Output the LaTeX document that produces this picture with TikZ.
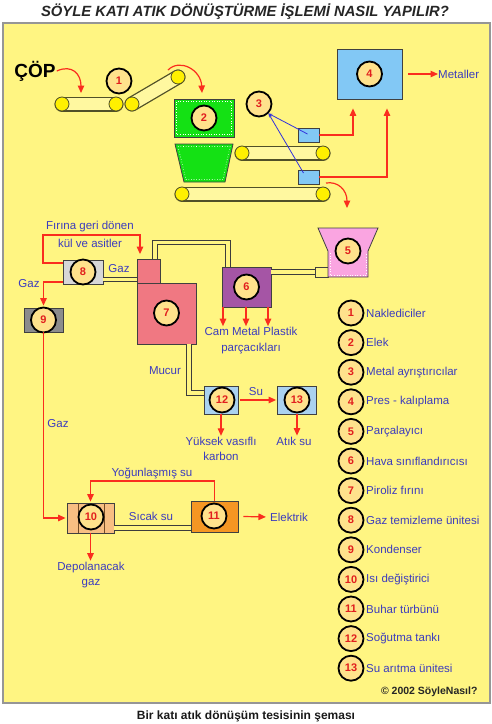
\documentclass[tikz,border=0pt]{standalone}
\usepackage{fontspec}
\setmainfont{Liberation Sans}
\usetikzlibrary{arrows.meta,calc}
\definecolor{bgyellow}{RGB}{255,245,130}
\definecolor{panelgray}{RGB}{150,150,150}
\definecolor{lblue}{RGB}{60,60,190}
\definecolor{numred}{RGB}{225,30,30}
\definecolor{arrred}{RGB}{250,45,30}
\definecolor{circfill}{RGB}{255,226,140}
\definecolor{green2}{RGB}{20,225,20}
\definecolor{lightblue}{RGB}{130,200,245}
\definecolor{pink5}{RGB}{250,165,225}
\definecolor{purple6}{RGB}{165,85,165}
\definecolor{salmon7}{RGB}{240,120,130}
\definecolor{gray8}{RGB}{215,215,215}
\definecolor{gray9}{RGB}{140,140,140}
\definecolor{orange10}{RGB}{248,190,130}
\definecolor{orange11}{RGB}{245,150,35}
\definecolor{blue12}{RGB}{170,210,240}
\definecolor{beltdark}{RGB}{80,80,40}
\definecolor{beltfill}{RGB}{255,248,160}
\definecolor{rollery}{RGB}{255,240,0}
\definecolor{pipegray}{RGB}{60,60,60}
\definecolor{bluel}{RGB}{50,50,220}
\newcommand\mybelt[2]{%
  \draw[beltout] (#1) -- (#2);
  \draw[beltin] (#1) -- (#2);}
\begin{document}
\begin{tikzpicture}[x=1pt,y=-1pt,
  numc/.style={circle, draw=black, line width=1.8pt, fill=circfill, minimum size=25pt,
    inner sep=0pt, font=\fontsize{11}{11}\selectfont\bfseries, text=numred},
  lbl/.style={text=lblue, font=\fontsize{11.5}{15.5}\selectfont, inner sep=0pt, align=center},
  rarr/.style={draw=arrred, line width=1.2pt, -{Triangle[length=7.5pt,width=6.5pt]}},
  pipe/.style={draw=pipegray, line width=1pt, double=bgyellow, double distance=3.5pt},
  box/.style={draw=black!75, line width=0.8pt, inner sep=0pt},
  beltout/.style={draw=beltdark, line width=15pt, line cap=round},
  beltin/.style={draw=beltfill, line width=12.4pt, line cap=round},
  roller/.style={circle, draw=beltdark, fill=rollery, line width=0.8pt, minimum size=14pt, inner sep=0pt},
  bline/.style={draw=bluel, line width=0.8pt, -{Stealth[length=4pt,width=3pt]}}
]
\useasboundingbox (0,0) rectangle (492,724);
\fill[white] (0,0) rectangle (492,724);
% panel
\draw[draw=panelgray, line width=1.5pt, fill=bgyellow] (3,23) rectangle (490,703);

% title and caption
\node[font=\fontsize{14.8}{14.8}\selectfont\bfseries\itshape, text=black!85] (title) at (245,12)
  {SÖYLE KATI ATIK DÖNÜŞTÜRME İŞLEMİ NASIL YAPILIR?};
\node[font=\fontsize{12}{12}\selectfont\bfseries, text=black!90] (cap) at (246,716)
  {Bir katı atık dönüşüm tesisinin şeması};
\node[font=\fontsize{10.5}{10.5}\selectfont\bfseries, text=black!85, anchor=east] (copy) at (481,692)
  {© 2002 SöyleNasıl?};

% ÇÖP
\node[font=\fontsize{19}{19}\selectfont\bfseries, inner sep=1pt] (cop) at (35,71) {ÇÖP};

% conveyors
\coordinate (ra1) at (62,104);  \coordinate (ra2) at (116,104);
\coordinate (rb1) at (132,104); \coordinate (rb2) at (178,77);
\coordinate (rc1) at (242,153); \coordinate (rc2) at (323,153);
\coordinate (rd1) at (182,194); \coordinate (rd2) at (323,194);
\mybelt{ra1}{ra2}
\mybelt{rb1}{rb2}
\mybelt{rc1}{rc2}
\mybelt{rd1}{rd2}
\foreach \r in {ra1,ra2,rb1,rb2,rc1,rc2,rd1,rd2}
  \node[roller] (n\r) at (\r) {};

\node[numc] (c1) at (119,81) {1};

% curved arrows
\coordinate (cin) at (81,93);
\draw[rarr] (cop.east) .. controls (72,64) and (81,74) .. (cin);
\coordinate (t1s) at (168,70);
\coordinate (t1e) at (202,93);
\draw[rarr] (t1s) .. controls (180,58) and (201,70) .. (t1e);

% screen 2
\node[box, fill=green2, minimum width=60pt, minimum height=38pt] (b2) at (204,118) {};
\draw[white, dotted, line width=0.6pt] (176.5,101.5) rectangle (231.5,134.5);
\draw[box, fill=green2] (175,144) -- (233,144) -- (225,182) -- (184,182) -- cycle;
\draw[white, dotted, line width=0.6pt] (178,146.5) -- (230,146.5) -- (223,179.5) -- (186,179.5) -- cycle;
\node[numc] (c2) at (b2) {2};

% metal separators 3
\node[numc] (c3) at (259,104) {3};
\node[box, fill=lightblue, minimum width=21pt, minimum height=14pt] (sbA) at (308.5,135) {};
\node[box, fill=lightblue, minimum width=21pt, minimum height=14pt] (sbB) at (308.5,177) {};
\draw[bline] ($(sbA.center)+(-1,-1)$) -- (c3.south east);
\draw[bline] ($(sbB.center)+(-5,-4)$) -- (c3.south east);

% press 4
\node[box, fill=lightblue, minimum width=65pt, minimum height=50pt] (b4) at (369.5,74) {};
\node[numc] (c4) at (b4) {4};
\node[lbl, anchor=west] (met) at (438,74) {Metaller};
\draw[rarr] ([xshift=6pt]b4.east) -- (met.west);
\draw[rarr, shorten >=9pt] (sbA.east) -| (353,0 |- b4.south);
\draw[rarr, shorten >=9pt] (sbB.east) -| (387,0 |- b4.south);

% to shredder
\coordinate (d5s) at (326,183);
\coordinate (d5e) at (347,208);
\draw[rarr] (d5s) .. controls (338,181) and (347,190) .. (d5e);

% shredder 5
\node[box, fill=bgyellow, minimum width=13pt, minimum height=10pt] (s5) at (321.5,272) {};
\draw[box, fill=pink5] (318,228) -- (378,228) -- (368,251) -- (368,277) -- (328,277) -- (328,251) -- cycle;
\draw[white, dotted, line width=0.6pt] (330,253) -- (330,275) -- (366,275) -- (366,253);
\node[numc] (c5) at (348,251) {5};

% air classifier 6
\node[box, fill=purple6, minimum width=49pt, minimum height=40pt] (b6) at (246.5,287) {};
\node[numc] (c6) at (b6) {6};
\draw[pipe] (b6.east |- s5.west) -- (s5.west);

% pyrolysis 7
\node[box, fill=salmon7, minimum width=23pt, minimum height=24pt] (b7t) at (148.5,271.5) {};
\node[box, fill=salmon7, minimum width=59pt, minimum height=61pt] (b7) at (166.5,313.5) {};
\node[numc] (c7) at (166.5,313) {7};
\draw[pipe] (155,0 |- b7t.north) |- (228,242.5) -- (228,0 |- b6.north);

% gas cleaning 8 and condenser 9
\node[box, fill=gray8, minimum width=40pt, minimum height=24pt] (b8) at (83,272) {};
\node[numc] (c8) at (b8) {8};
\node[box, fill=gray9, minimum width=39pt, minimum height=24pt] (b9) at (43.5,320) {};
\node[numc] (c9) at (b9) {9};
\draw[pipe] (b8.east |- 0,279.5) -- (b7t.west |- 0,279.5);

\node[lbl] (gaz1) at (119,269) {Gaz};
\node[lbl] (gaz2) at (29,284) {Gaz};
\node[lbl] (gaz3) at (58,424) {Gaz};
\node[lbl] (fir1) at (90,227) {Fırına geri dönen};
\node[lbl] (fir2) at (90,243) {kül ve asitler};

% heat exchanger 10 and turbine 11
\node[box, fill=orange10, minimum width=47pt, minimum height=30pt] (b10) at (90.5,518) {};
\draw[brown!60!black, line width=0.5pt] (78,503) -- (78,533) (104,503) -- (104,533);
\node[numc] (c10) at (91,517) {10};
\node[box, fill=orange11, minimum width=47pt, minimum height=31pt] (b11) at (214.5,516.5) {};
\node[numc] (c11) at (214,516) {11};

\draw[rarr, shorten >=5pt] (b8.west |- 0,263) -- (43,263) |- (140,235) -- (140,0 |- b7t.north);
\draw[rarr, shorten >=2pt] (b8.west |- 0,282) -| (b9.north);
\draw[rarr, shorten >=1pt] (b9.south) |- (b10.west);

% products of 6
\node[lbl] (cam) at (251,340.5) {Cam Metal Plastik\\parçacıkları};
\foreach \xx in {223,246,268}
  \draw[rarr, shorten >=1pt] (\xx,0 |- b6.south) -- (\xx,0 |- cam.north);

% char line to 12
\node[box, fill=blue12, minimum width=34pt, minimum height=28pt] (b12) at (221,400) {};
\node[numc] (c12) at (222,400) {12};
\node[box, fill=blue12, minimum width=39pt, minimum height=28pt] (b13) at (297,400) {};
\node[numc] (c13) at (b13) {13};
\draw[pipe] (189,0 |- b7.south) |- (b12.west |- 0,393);
\node[lbl] (mucur) at (165,371) {Mucur};
\draw[rarr, shorten <=2pt, shorten >=1pt] (b12.east) -- (b13.west);
\node[lbl] (su) at (256,392) {Su};
\node[lbl] (yuk) at (221,449) {Yüksek vasıflı\\karbon};
\node[lbl] (atik) at (294,441) {Atık su};
\draw[rarr, shorten >=1pt] (b12.south) -- (b12.south |- yuk.north);
\draw[rarr, shorten >=1pt] (b13.south) -- (b13.south |- atik.north);

% 10 / 11 connections
\draw[pipe] (b10.east |- 0,528) -- (b11.west |- 0,528);
\node[lbl] (sicak) at (151,516) {Sıcak su};
\node[lbl] (yog) at (152,473) {Yoğunlaşmış su};
\draw[rarr, shorten >=1pt] (b11.north) -- (b11.north |- 0,481) -| (b10.north);
\node[lbl] (elek) at (289,517) {Elektrik};
\draw[rarr, shorten >=4pt] ([xshift=5pt]b11.east) -- (elek.west);
\node[lbl] (dep) at (91,575) {Depolanacak\\gaz};
\draw[rarr, shorten >=1pt] (b10.south) -- (b10.south |- dep.north);

% legend
\foreach \n/\t in {1/Naklediciler,2/Elek,3/Metal ayrıştırıcılar,4/Pres - kalıplama,
  5/Parçalayıcı,6/Hava sınıflandırıcısı,7/Piroliz fırını,8/Gaz temizleme ünitesi,
  9/Kondenser,10/Isı değiştirici,11/Buhar türbünü,12/Soğutma tankı,13/Su arıtma ünitesi}{
  \node[numc] (l\n) at (351,{313+(\n-1)*29.6}) {\n};
  \node[lbl, anchor=west] (t\n) at (366,{313+(\n-1)*29.6}) {\t};
}
\end{tikzpicture}
\end{document}
